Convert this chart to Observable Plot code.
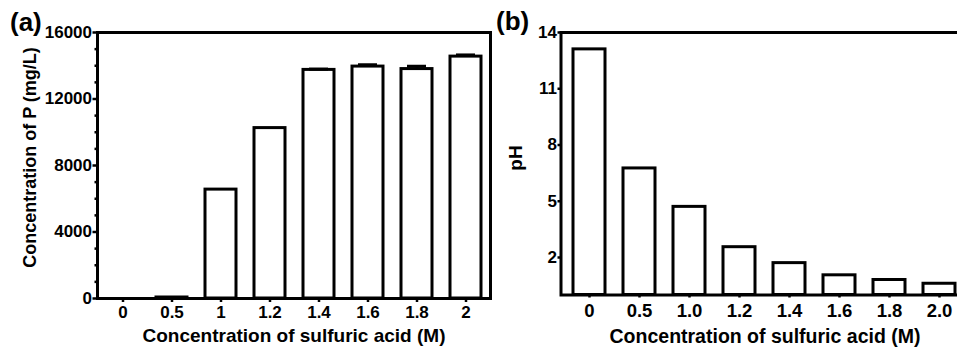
<!DOCTYPE html>
<html>
<head>
<meta charset="utf-8">
<script src="https://cdn.jsdelivr.net/npm/d3@7"></script>
<script src="https://cdn.jsdelivr.net/npm/@observablehq/plot@0.6"></script>
<style>
  html, body { margin: 0; padding: 0; background: white; }
  #wrap { position: relative; width: 957px; height: 348px; overflow: hidden; background: white; }
  .panel { position: absolute; top: 0; }
  #overlay { position: absolute; left: 0; top: 0; pointer-events: none; }
</style>
</head>
<body>
<div id="wrap">
  <div id="pa" class="panel" style="left:0px;width:500px;"></div>
  <div id="pb" class="panel" style="left:480px;width:490px;"></div>
</div>
<script>
// ---- data ----
const acidA = ["0", "0.5", "1", "1.2", "1.4", "1.6", "1.8", "2"];
const phosphorus = [0, 60, 6550, 10250, 13750, 13950, 13800, 14550];
const phosphorusErr = [0, 0, 0, 0, 50, 110, 170, 100];
const yTicksA = [0, 4000, 8000, 12000, 16000];
const yMinorA = [1000, 2000, 3000, 5000, 6000, 7000, 9000, 10000, 11000, 13000, 14000, 15000];

const acidB = ["0", "0.5", "1.0", "1.2", "1.4", "1.6", "1.8", "2.0"];
const pH = [13.1, 6.75, 4.7, 2.55, 1.7, 1.05, 0.8, 0.6];
const yTicksB = [2, 5, 8, 11, 14];

const tableA = acidA.map((a, i) => ({acid: a, p: phosphorus[i], err: phosphorusErr[i]}));
const errA = tableA.filter(d => d.err > 0);
const tableB = acidB.map((a, i) => ({acid: a, ph: pH[i]}));

const font = "'Liberation Sans', Arial, Helvetica, sans-serif";

const plotA = Plot.plot({
  width: 500, height: 348,
  marginLeft: 97, marginRight: 10, marginTop: 32, marginBottom: 50,
  style: {fontFamily: font, fontSize: "17px", fontWeight: "bold", background: "transparent", color: "black", overflow: "visible"},
  x: {type: "band", domain: acidA, paddingInner: 0.37, paddingOuter: 0.185},
  y: {domain: [0, 16000]},
  marks: [
    Plot.barY(tableA, {x: "acid", y: "p", fill: "white", stroke: "black", strokeWidth: 3}),
    Plot.ruleX(errA, {x: "acid", y1: "p", y2: d => d.p + d.err, stroke: "black", strokeWidth: 3}),
    Plot.tickY(errA, {x: "acid", y: d => d.p + d.err, stroke: "black", strokeWidth: 3, insetLeft: 6, insetRight: 6}),
    Plot.frame({stroke: "black", strokeWidth: 3}),
    Plot.axisY(yMinorA, {tickSize: 2.5, tickFormat: () => "", strokeWidth: 2.5, label: null}),
    Plot.axisY(yTicksA, {tickSize: 4.5, tickPadding: 1, tickFormat: d => String(d), strokeWidth: 2.5, label: null}),
    Plot.axisX({tickSize: 4, tickPadding: 3, strokeWidth: 2.5, label: null})
  ]
});
document.getElementById("pa").appendChild(plotA);

const plotB = Plot.plot({
  width: 490, height: 348,
  marginLeft: 80.5, marginRight: 3, marginTop: 32, marginBottom: 53.5,
  style: {fontFamily: font, fontSize: "17px", fontWeight: "bold", background: "transparent", color: "black", overflow: "visible"},
  x: {type: "band", domain: acidB, paddingInner: 0.37, paddingOuter: 0.185},
  y: {domain: [0, 14]},
  marks: [
    Plot.barY(tableB, {x: "acid", y: "ph", fill: "white", stroke: "black", strokeWidth: 3}),
    Plot.frame({stroke: "black", strokeWidth: 3}),
    Plot.axisY(yTicksB, {tickSize: 3, tickPadding: 1, fontSize: 17, strokeWidth: 2.5, label: null}),
    Plot.axisX({tickSize: 3, tickPadding: 6, fontSize: 18.5, strokeWidth: 2.5, label: null})
  ]
});
document.getElementById("pb").appendChild(plotB);

// ---- titles and panel tags ----
const svg = d3.select("#wrap").append("svg")
  .attr("id", "overlay").attr("width", 957).attr("height", 348)
  .style("font-family", font).style("font-weight", "bold");

svg.append("text").attr("x", 10).attr("y", 31).attr("font-size", 26).text("(a)");
svg.append("text").attr("x", 496).attr("y", 30).attr("font-size", 26).text("(b)");

svg.append("text").attr("x", 294).attr("y", 341.5).attr("text-anchor", "middle")
  .attr("font-size", 19).text("Concentration of sulfuric acid (M)");
svg.append("text").attr("x", 765).attr("y", 343).attr("text-anchor", "middle")
  .attr("font-size", 19.5).text("Concentration of sulfuric acid (M)");

svg.append("text").attr("transform", "translate(36,157.5) rotate(-90)").attr("text-anchor", "middle")
  .attr("font-size", 18).text("Concentration of P (mg/L)");
svg.append("text").attr("transform", "translate(522,158) rotate(-90)").attr("text-anchor", "middle")
  .attr("font-size", 19).text("pH");
</script>
</body>
</html>
